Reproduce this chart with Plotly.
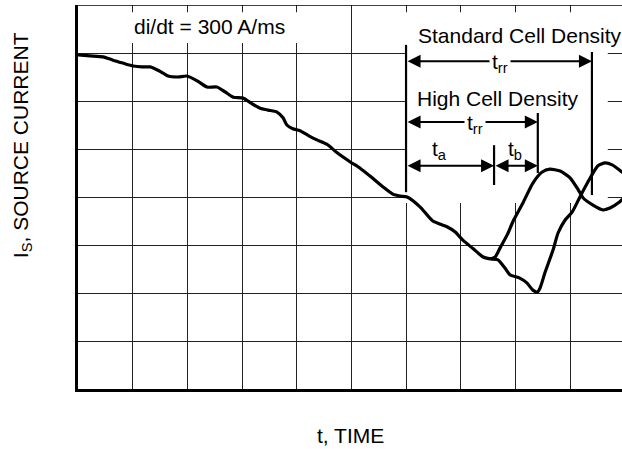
import plotly.graph_objects as go

# Time in grid divisions, current in grid divisions
t_common = [0.00, 0.22, 0.46, 0.64, 0.82, 1.01, 1.17, 1.32, 1.48, 1.65, 1.83, 1.99, 2.18, 2.36,
            2.54, 2.69, 2.84, 3.02, 3.16, 3.33, 3.48, 3.64, 3.75, 3.82, 3.93, 4.06, 4.23, 4.37,
            4.55, 4.74, 4.98, 5.16, 5.38, 5.58, 5.76, 5.89, 6.02, 6.26, 6.49, 6.75, 6.90, 7.04,
            7.23, 7.41, 7.54]
i_common = [6.96, 6.94, 6.92, 6.85, 6.79, 6.73, 6.71, 6.71, 6.63, 6.52, 6.50, 6.52, 6.42, 6.29,
            6.29, 6.19, 6.08, 6.06, 5.96, 5.85, 5.81, 5.77, 5.65, 5.50, 5.42, 5.38, 5.27, 5.19,
            5.10, 4.92, 4.73, 4.60, 4.40, 4.21, 4.06, 4.02, 4.00, 3.79, 3.50, 3.38, 3.27, 3.10,
            2.92, 2.75, 2.71]

t_high = [7.54, 7.63, 7.72, 7.85, 7.96, 8.14, 8.32, 8.49, 8.63, 8.82, 9.00, 9.15, 9.24, 9.42,
          9.60, 9.73, 9.91, 10.02]
i_high = [2.71, 2.75, 2.94, 3.21, 3.50, 3.88, 4.29, 4.52, 4.58, 4.54, 4.40, 4.15, 3.98, 3.83,
          3.73, 3.77, 3.90, 4.02]

t_std = [7.54, 7.68, 7.81, 7.90, 8.08, 8.21, 8.32, 8.40, 8.45, 8.54, 8.69, 8.78, 8.91, 9.04,
         9.18, 9.37, 9.51, 9.64, 9.77, 9.95, 10.04]
i_std = [2.71, 2.69, 2.52, 2.38, 2.31, 2.21, 2.06, 2.02, 2.10, 2.42, 2.90, 3.25, 3.52, 3.69,
         4.00, 4.40, 4.65, 4.71, 4.67, 4.52, 4.44]

FONT = "Liberation Sans, Arial, Helvetica, sans-serif"
FS = 21
LW = 3.2

fig = go.Figure()
for tx, iy in [(t_common, i_common), (t_high, i_high), (t_std, i_std)]:
    fig.add_trace(go.Scatter(x=tx, y=iy, mode="lines",
                             line=dict(color="black", width=LW, shape="spline", smoothing=0.6),
                             hoverinfo="skip", showlegend=False))

shapes = [
    # white backgrounds for annotation areas (above grid, below curves)
    dict(type="rect", xref="x", yref="y", x0=0.86, x1=4.06, y0=7.21, y1=7.85,
         fillcolor="white", line=dict(width=0), layer="between"),
    dict(type="rect", xref="x", yref="y", x0=5.98, x1=9.69, y0=3.875, y1=7.85,
         fillcolor="white", line=dict(width=0), layer="between"),
    # top border
    dict(type="line", xref="paper", yref="y", x0=0, x1=1, y0=8, y1=8,
         line=dict(color="black", width=1.5), layer="above"),
    # bracket verticals
    dict(type="line", xref="x", yref="y", x0=6.0, x1=6.0, y0=4.10, y1=7.17,
         line=dict(color="black", width=2.2), layer="above"),
    dict(type="line", xref="x", yref="y", x0=9.40, x1=9.40, y0=4.04, y1=7.02,
         line=dict(color="black", width=2.2), layer="above"),
    dict(type="line", xref="x", yref="y", x0=8.41, x1=8.41, y0=4.50, y1=5.75,
         line=dict(color="black", width=2.2), layer="above"),
    dict(type="line", xref="x", yref="y", x0=7.61, x1=7.61, y0=4.25, y1=5.08,
         line=dict(color="black", width=2.2), layer="above"),
]

def darrow(x0, x1, y):
    return dict(x=x1, y=y, ax=x0, ay=y, xref="x", yref="y", axref="x", ayref="y",
                text="", showarrow=True, arrowside="end+start",
                arrowhead=2, startarrowhead=2, arrowsize=1.3, startarrowsize=1.3,
                arrowwidth=2, arrowcolor="black")

def label(x, y, text, bg=None):
    d = dict(x=x, y=y, xref="x", yref="y", text=text, showarrow=False,
             xanchor="center", yanchor="middle",
             font=dict(family=FONT, size=FS, color="black"))
    if bg:
        d.update(bgcolor=bg, borderpad=2)
    return d

annotations = [
    darrow(6.0, 9.40, 6.83),
    darrow(6.0, 8.41, 5.56),
    darrow(6.0, 7.61, 4.65),
    darrow(7.61, 8.41, 4.65),
    label(2.41, 7.55, "di/dt = 300 A/ms"),
    label(8.08, 7.375, "Standard Cell Density"),
    label(7.72, 6.80, "t<sub>rr</sub>", bg="white"),
    label(7.68, 6.06, "High Cell Density"),
    label(7.26, 5.52, "t<sub>rr</sub>", bg="white"),
    label(6.62, 4.97, "t<sub>a</sub>"),
    label(7.99, 4.97, "t<sub>b</sub>"),
    dict(x=-0.103, y=0.635, xref="paper", yref="paper", text="I<sub>S</sub>, SOURCE CURRENT",
         textangle=-90, showarrow=False, xanchor="center", yanchor="middle",
         font=dict(family=FONT, size=FS, color="black")),
    dict(x=0.5, y=-0.12, xref="paper", yref="paper", text="t, TIME",
         showarrow=False, xanchor="center", yanchor="middle",
         font=dict(family=FONT, size=FS, color="black")),
]

fig.update_layout(
    width=622, height=449,
    margin=dict(l=78, r=0, t=5, b=60),
    paper_bgcolor="white", plot_bgcolor="white",
    shapes=shapes, annotations=annotations,
    xaxis=dict(range=[0, 9.95], dtick=1, tick0=0, showgrid=True, gridcolor="#222",
               gridwidth=1, showticklabels=False, ticks="", zeroline=False,
               showline=True, linecolor="black", linewidth=2.5, fixedrange=True),
    yaxis=dict(range=[0, 8], dtick=1, tick0=0, showgrid=True, gridcolor="#222",
               gridwidth=1, showticklabels=False, ticks="", zeroline=False,
               showline=True, linecolor="black", linewidth=2.5, fixedrange=True),
)

fig.write_html("out.html", config={"displayModeBar": False},
               post_script="document.body.style.margin='0';document.body.style.overflow='hidden';")
